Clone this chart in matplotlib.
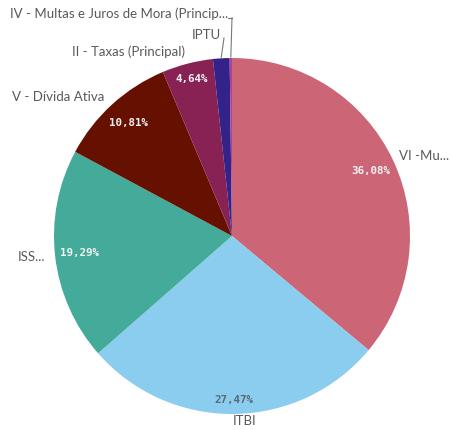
import matplotlib.pyplot as plt
import numpy as np

labels = ['VI -Mu...', 'ITBI', 'ISS...', 'V - Dívida Ativa', 'II - Taxas (Principal)',
          'IPTU', 'IV - Multas e Juros de Mora (Princip...']
values = [36.08, 27.47, 19.29, 10.81, 4.64, 1.50, 0.21]
pct_text = ['36,08%', '27,47%', '19,29%', '10,81%', '4,64%', '', '']
colors = ['#cc6677', '#8acdee', '#44aa99', '#661100', '#882255', '#332288', '#aa4499']
pct_colors = ['#f2f2f2', '#5a6a78', '#f2f2f2', '#f2f2f2', '#f2f2f2', 'w', 'w']

W, H = 451, 430
cx, cy, R = 232, H - 236, 178

fig = plt.figure(figsize=(W / 100, H / 100), dpi=100)
ax = fig.add_axes([0, 0, 1, 1])

wedges, _ = ax.pie(values, colors=colors, startangle=90, counterclock=False,
                   center=(cx, cy), radius=R, frame=True)
ax.set_xlim(0, W)
ax.set_ylim(0, H)
ax.set_aspect('equal')
ax.axis('off')

# percentage labels inside
pct_dist = [0.86, 0.92, 0.86, 0.86, 0.91, 0, 0]
for w, t, c, d in zip(wedges, pct_text, pct_colors, pct_dist):
    if not t:
        continue
    ang = np.deg2rad((w.theta1 + w.theta2) / 2)
    ax.text(cx + d * R * np.cos(ang), cy + d * R * np.sin(ang), t, color=c,
            fontsize=7.8, fontweight='bold', family='DejaVu Sans Mono',
            ha='center', va='center')

# outside labels
lab_kw = dict(color='#595959', fontsize=9.5, family='Lato', va='center')
ax.text(449, H - 156, labels[0], ha='right', **lab_kw)
ax.text(245, H - 421, labels[1], ha='center', **lab_kw)
ax.text(45, H - 257, labels[2], ha='right', **lab_kw)
ax.text(104, H - 97, labels[3], ha='right', **lab_kw)
ax.text(185, H - 52, labels[4], ha='right', **lab_kw)
ax.text(221, H - 35, labels[5], ha='right', **lab_kw)
ax.text(228, H - 14, labels[6], ha='right', **lab_kw)

# leader lines for tiny slices
for w, (x1, y1) in zip(wedges[5:], [(224, 38), (232, 18)]):
    ang = np.deg2rad((w.theta1 + w.theta2) / 2)
    x0, y0 = cx + R * np.cos(ang), cy + R * np.sin(ang)
    ax.plot([x0, x1], [y0 + 1, H - y1], color='#777777', lw=0.8)
ax.plot([228, 232], [H - 18, H - 18], color='#777777', lw=0.8)

fig.savefig('out.png', dpi=100)
